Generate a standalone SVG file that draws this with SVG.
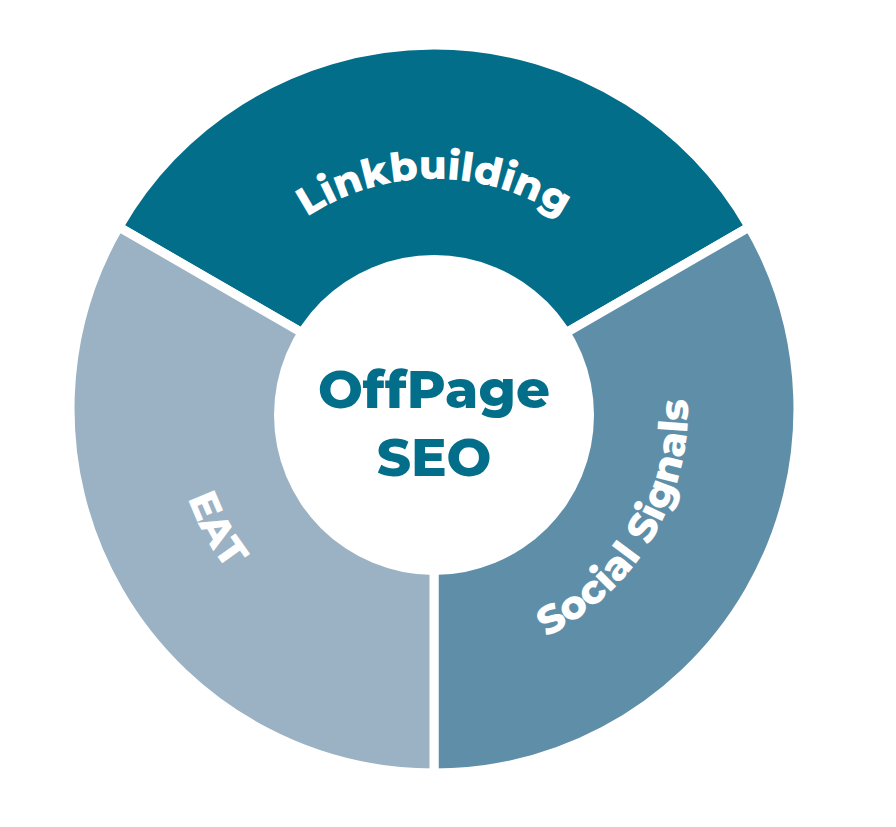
<svg xmlns="http://www.w3.org/2000/svg" width="896" height="827" viewBox="0 0 896 827">
<style>
.seg{stroke:#fff;stroke-width:9;stroke-linejoin:miter}
.lbl{font-family:"Montserrat","Open Sans","DejaVu Sans",sans-serif;font-weight:800;fill:#fff;font-size:40px}
.ctr{font-family:"Montserrat","Open Sans","DejaVu Sans",sans-serif;font-weight:800;fill:#036e89;font-size:53px;text-anchor:middle}
</style>
<defs>
<path id="pL" d="M280.1,238.1 A230,230 0 0 1 587.9,238.1"/>
<path id="pS" d="M434,663 A254,254 0 0 0 639.5,259.7"/>
<path id="pE" d="M219.4,258.6 A262,262 0 0 0 424.9,670.8"/>
</defs>
<rect width="896" height="827" fill="#fff"/>
<g id="linkbuilding">
<path class="seg" fill="#036e89" d="M434,409 L118.8,227 A364,364 0 0 1 749.2,227 Z"/>
<text class="lbl" font-size="42"><textPath href="#pL" startOffset="50%" text-anchor="middle">Linkbuilding</textPath></text>
</g>
<g id="social">
<path class="seg" fill="#5f8fa8" d="M434,409 L749.2,227 A364,364 0 0 1 434,773 Z"/>
<text class="lbl"><textPath href="#pS" startOffset="47%" text-anchor="middle">Social Signals</textPath></text>
</g>
<g id="eat">
<path class="seg" fill="#9ab2c3" d="M434,409 L434,773 A364,364 0 0 1 118.8,227 Z"/>
<text class="lbl"><textPath href="#pE" startOffset="52%" text-anchor="middle">EAT</textPath></text>
</g>
<g id="center">
<circle cx="434" cy="415" r="160" fill="#fff"/>
<text class="ctr" x="434" y="408">OffPage</text>
<text class="ctr" x="434" y="476">SEO</text>
</g>
</svg>
